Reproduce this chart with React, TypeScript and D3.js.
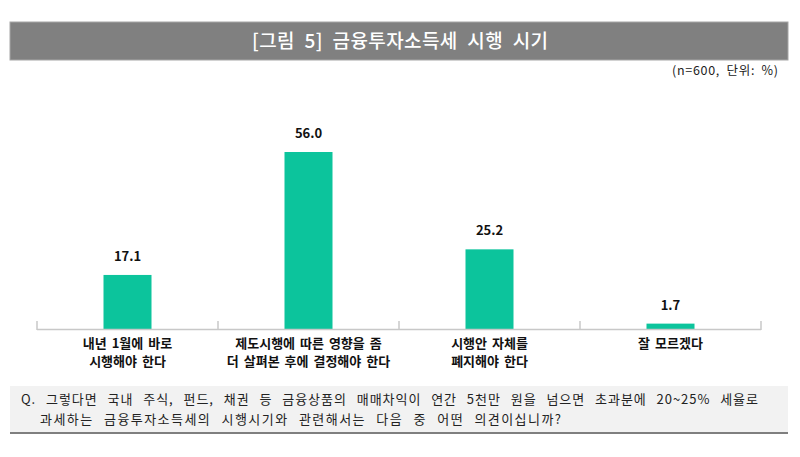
import React from "react";
import * as d3 from "d3";

const categories = ["c1", "c2", "c3", "c4"];
const categoryLines = [
  ["내년 1월에 바로", "시행해야 한다"],
  ["제도시행에 따른 영향을 좀", "더 살펴본 후에 결정해야 한다"],
  ["시행안 자체를", "폐지해야 한다"],
  ["잘 모르겠다"],
];
const values = [17.1, 56.0, 25.2, 1.7];
const title = "[그림 5] 금융투자소득세 시행 시기";
const unitNote = "(n=600, 단위: %)";
const questionLines = [
  "Q. 그렇다면 국내 주식, 펀드, 채권 등 금융상품의 매매차익이 연간 5천만 원을 넘으면 초과분에 20~25% 세율로",
  "과세하는 금융투자소득세의 시행시기와 관련해서는 다음 중 어떤 의견이십니까?",
];

const W = 800;
const H = 457;
const font = "'Noto Sans CJK KR', 'Noto Sans', sans-serif";

export default function App() {
  const x = d3.scaleBand().domain(categories).range([37, 761]).paddingInner(0).paddingOuter(0);
  const y = d3.scaleLinear().domain([0, 56]).range([329, 152]);
  const barW = 48;
  return (
    <svg width={W} height={H} style={{ position: "absolute", left: 0, top: 0 }} fontFamily={font}>
      <rect x={0} y={0} width={W} height={H} fill="#fff" />
      <rect x={10} y={22} width={778} height={38} fill="#808080" stroke="#a6a6a6" strokeWidth={1} />
      <text x={252} y={48} fill="#fff" fontSize={19} fontWeight={500} wordSpacing={5} textLength={296} lengthAdjust="spacing">{title}</text>
      <text x={672} y={75} fill="#222" fontSize={12.5} wordSpacing={3} textLength={106} lengthAdjust="spacing">{unitNote}</text>

      {categories.map((c, i) => {
        const cx = (x(c) as number) + x.bandwidth() / 2;
        return (
          <g key={c}>
            <rect x={cx - barW / 2} y={y(values[i])} width={barW} height={y(0) - y(values[i])} fill="#0cc49c" />
            <text x={cx} y={y(values[i]) - 14} textAnchor="middle" fontSize={13} fontWeight={700} fill="#111">
              {values[i].toFixed(1)}
            </text>
            {categoryLines[i].map((l, j) => (
              <text key={j} x={cx} y={348 + j * 18} textAnchor="middle" fontSize={13} fontWeight={700} wordSpacing={2} fill="#111">
                {l}
              </text>
            ))}
          </g>
        );
      })}

      <line x1={37} x2={761} y1={329.5} y2={329.5} stroke="#c8c8c8" strokeWidth={1.5} />
      {[...categories.map((c) => x(c) as number), 761].map((t, i) => (
        <line key={i} x1={t} x2={t} y1={321} y2={330} stroke="#c8c8c8" strokeWidth={1.5} />
      ))}

      <rect x={10} y={386} width={778} height={46} fill="#f2f2f2" />
      <line x1={10} x2={788} y1={433} y2={433} stroke="#7f7f7f" strokeWidth={2} />
      <text x={21} y={404} fontSize={13} fill="#222" wordSpacing={6} textLength={737} lengthAdjust="spacing">{questionLines[0]}</text>
      <text x={40} y={424} fontSize={13} fill="#222" wordSpacing={6} textLength={521} lengthAdjust="spacing">{questionLines[1]}</text>
    </svg>
  );
}
